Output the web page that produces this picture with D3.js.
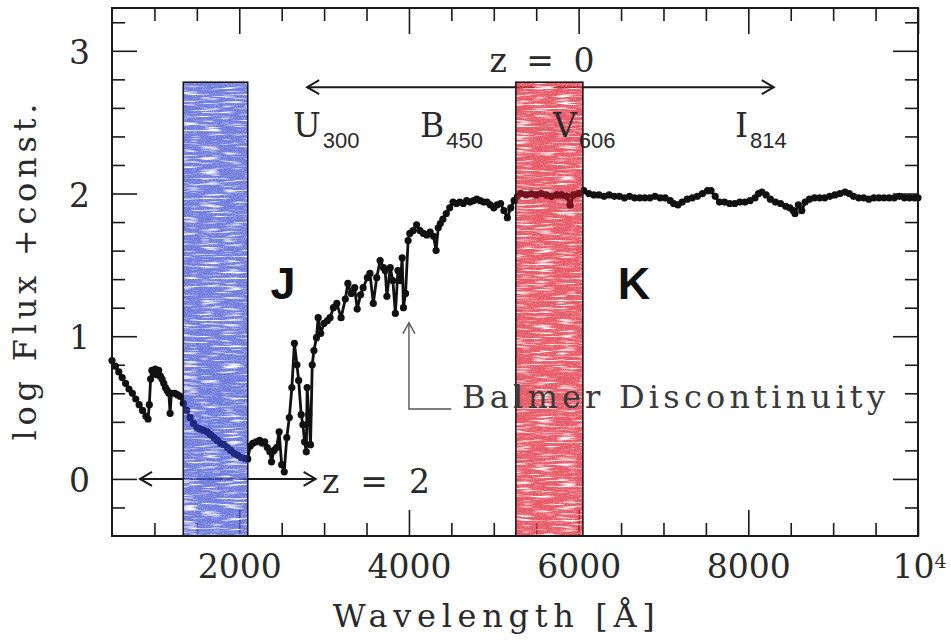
<!DOCTYPE html>
<html>
<head>
<meta charset="utf-8">
<script src="https://cdn.jsdelivr.net/npm/d3@7"></script>
<style>
  html, body { margin: 0; padding: 0; background: #fff; }
  svg { display: block; }
</style>
</head>
<body>
<svg id="chart" width="951" height="642"></svg>
<script>
// Spectrum: [wavelength (Å), log flux + const]
const spectrum = [
  [500,0.83],[540,0.79],[580,0.75],[620,0.71],[660,0.67],[700,0.63],[740,0.60],[780,0.56],[820,0.52],[860,0.48],[900,0.44],[925,0.42],
  [940,0.52],[955,0.70],[970,0.76],[990,0.74],[1010,0.77],[1030,0.73],[1050,0.76],[1070,0.72],[1090,0.70],[1110,0.67],[1130,0.64],[1150,0.62],[1170,0.60],[1185,0.46],[1200,0.60],[1240,0.60],[1270,0.59],
  [1300,0.58],[1340,0.53],[1380,0.48],[1420,0.43],[1460,0.39],[1500,0.36],[1540,0.35],[1580,0.34],[1620,0.33],[1660,0.31],[1700,0.29],[1740,0.27],[1780,0.25],[1820,0.24],[1860,0.22],[1900,0.20],[1940,0.18],[1980,0.165],[2020,0.15],[2060,0.145],[2100,0.14],
  [2130,0.23],[2160,0.25],[2200,0.26],[2240,0.27],[2270,0.25],[2300,0.26],[2330,0.22],[2360,0.19],[2380,0.12],[2410,0.20],[2440,0.22],[2470,0.33],[2500,0.10],[2530,0.05],[2560,0.29],[2590,0.43],[2620,0.64],[2650,0.95],[2680,0.80],[2700,0.69],[2730,0.45],[2750,0.38],[2770,0.26],[2790,0.19],[2800,0.64],[2820,0.45],[2840,0.24],[2860,0.80],[2880,0.90],[2910,0.99],[2930,1.13],[2960,1.02],[3000,1.09],[3040,1.11],[3070,1.13],[3110,1.20],[3150,1.23],[3200,1.13],[3250,1.26],[3280,1.37],[3320,1.30],[3360,1.34],[3390,1.19],[3430,1.29],[3460,1.34],[3510,1.41],[3540,1.44],[3580,1.23],[3620,1.41],[3660,1.53],[3700,1.48],[3720,1.46],[3740,1.28],[3780,1.48],[3810,1.39],[3840,1.16],[3870,1.46],[3900,1.39],[3920,1.55],[3935,1.20],[3960,1.30],[3990,1.67],[4010,1.72],[4050,1.74],[4090,1.78],[4130,1.74],[4170,1.72],[4210,1.71],[4250,1.73],[4290,1.70],[4320,1.60],[4345,1.76],[4370,1.79],[4400,1.82],
  [4440,1.86],[4480,1.90],[4520,1.94],[4560,1.93],[4600,1.94],[4640,1.93],[4680,1.95],[4720,1.94],[4760,1.95],[4800,1.96],[4840,1.95],[4880,1.94],[4920,1.94],[4960,1.92],[5000,1.90],[5040,1.92],[5080,1.93],[5120,1.88],[5160,1.83],[5200,1.90],[5240,1.95],[5280,1.98],
  [5320,2.00],[5380,1.99],[5440,2.00],[5500,1.99],[5560,2.00],[5620,1.99],[5680,1.98],[5740,1.99],[5800,1.99],[5860,1.98],[5900,1.92],[5940,1.99],[6000,2.00],[6060,2.02],[6120,2.00],[6180,1.99],[6240,1.99],[6300,1.98],[6360,1.99],[6420,1.98],[6480,1.98],[6540,1.97],[6600,1.98],[6660,1.97],[6720,1.97],[6780,1.97],[6840,1.97],[6900,1.98],[6960,1.97],[7020,1.97],[7080,1.95],[7120,1.93],[7170,1.92],[7220,1.94],[7280,1.96],[7340,1.97],[7400,1.98],[7460,2.00],[7520,2.02],[7560,2.02],[7610,1.98],[7660,1.94],[7720,1.94],[7780,1.93],[7840,1.93],[7900,1.94],[7960,1.94],[8020,1.95],[8080,1.97],[8120,2.00],[8160,2.01],[8210,1.99],[8260,1.96],[8320,1.94],[8380,1.93],[8440,1.91],[8490,1.90],[8530,1.88],[8550,1.86],[8590,1.92],[8630,1.88],[8670,1.94],[8720,1.96],[8780,1.97],[8840,1.97],[8900,1.97],[8960,1.98],[9020,1.99],[9080,2.00],[9140,2.01],[9190,2.00],[9240,1.98],[9300,1.97],[9360,1.97],[9420,1.96],[9480,1.97],[9540,1.97],[9600,1.97],[9660,1.97],[9720,1.97],[9780,1.98],[9840,1.97],[9900,1.97],[9960,1.97],[10000,1.97]
];

// Axis ticks
const xMajorTicks = [2000, 4000, 6000, 8000, 10000];
const xMinorTicks = [1000, 1500, 2500, 3000, 3500, 4500, 5000, 5500, 6500, 7000, 7500, 8500, 9000, 9500];
const yMajorTicks = [0, 1, 2, 3];
const yMinorTicks = [-0.2, 0.2, 0.4, 0.6, 0.8, 1.2, 1.4, 1.6, 1.8, 2.2, 2.4, 2.6, 2.8, 3.2];

// Near-IR windows (J, K) redshifted: [start Å, end Å]
const windowNames = ["J", "K"];
const windowRanges = [[1340, 2100], [5260, 6050]];
const windowTop = 2.78;

// Redshift ranges covered by the optical filters
const z0Range = [2800, 8300], z0Level = 2.745;
const z2Range = [830, 2900],  z2Level = 0;

// HST filter labels: [band, subscript, wavelength]
const filterLabels = [["U", "300", 2633], ["B", "450", 4130], ["V", "606", 5698], ["I", "814", 7843]];

const svg = d3.select("#chart");
const x = d3.scaleLinear().domain([500, 10000]).range([112, 918]);
const y = d3.scaleLinear().domain([-0.4, 3.3]).range([536, 8]);

const serif = "'DejaVu Serif', serif";
const sans = "'Liberation Sans', Arial, sans-serif";
const ink = "#1a1a1a";
const textInk = "#2a2a2a";

// Texture for the shaded windows: fine horizontal streaks plus light grain
const defs = svg.append("defs");
const f = defs.append("filter").attr("id", "streaks")
  .attr("x", 0).attr("y", 0).attr("width", 1).attr("height", 1);
f.append("feTurbulence").attr("type", "fractalNoise").attr("baseFrequency", "0.045 0.5")
  .attr("numOctaves", 2).attr("seed", 4).attr("result", "n1");
f.append("feColorMatrix").attr("in", "n1").attr("type", "matrix")
  .attr("values", "0 0 0 0 1  0 0 0 0 1  0 0 0 0 1  4.0 0 0 0 -2.05").attr("result", "w1");
f.append("feTurbulence").attr("type", "fractalNoise").attr("baseFrequency", "1.1")
  .attr("numOctaves", 1).attr("seed", 9).attr("result", "n2");
f.append("feColorMatrix").attr("in", "n2").attr("type", "matrix")
  .attr("values", "0 0 0 0 1  0 0 0 0 1  0 0 0 0 1  1.6 0 0 0 -0.85").attr("result", "w2");
const merge = f.append("feMerge").attr("result", "m");
merge.append("feMergeNode").attr("in", "w1");
merge.append("feMergeNode").attr("in", "w2");
f.append("feComposite").attr("in", "m").attr("in2", "SourceGraphic").attr("operator", "in");

// Clip regions for the window rectangles
const winRect = r => ({ x: x(r[0]), y: y(windowTop), w: x(r[1]) - x(r[0]), h: y(-0.4) - y(windowTop) });
windowRanges.forEach((r, i) => {
  const b = winRect(r);
  defs.append("clipPath").attr("id", "win" + i).append("rect")
    .attr("x", b.x).attr("y", b.y).attr("width", b.w).attr("height", b.h);
});

// Axes: ticks on all four sides, pointing inward
function tickAxis(axisFn, scale, values, size, tx, ty) {
  const g = svg.append("g").attr("transform", `translate(${tx},${ty})`)
    .call(axisFn(scale).tickValues(values).tickSize(-size).tickFormat(""));
  g.select(".domain").remove();
  g.selectAll(".tick line").attr("stroke", ink).attr("stroke-width", 1.6);
  return g;
}
tickAxis(d3.axisBottom, x, xMinorTicks, 13, 0, 536);
tickAxis(d3.axisTop, x, xMinorTicks, 13, 0, 8);
tickAxis(d3.axisTop, x, xMajorTicks, 26, 0, 8);
tickAxis(d3.axisLeft, y, yMinorTicks, 13, 112, 0);
tickAxis(d3.axisRight, y, yMinorTicks, 13, 918, 0);
tickAxis(d3.axisRight, y, yMajorTicks, 25, 918, 0);

const xAxis = svg.append("g").attr("transform", "translate(0,536)")
  .call(d3.axisBottom(x).tickValues(xMajorTicks).tickSize(-26).tickPadding(19)
    .tickFormat(d => d === 10000 ? "10" : d3.format("d")(d)));
xAxis.select(".domain").remove();
xAxis.selectAll(".tick line").attr("stroke", ink).attr("stroke-width", 1.6);
xAxis.selectAll(".tick text").attr("font-family", serif).attr("font-size", 33).attr("fill", textInk);
xAxis.selectAll(".tick text").filter(d => d === 10000)
  .attr("text-anchor", "start").attr("x", -26)
  .append("tspan").attr("dy", "-0.55em").attr("font-size", 19).text("4");

const yAxis = svg.append("g").attr("transform", "translate(112,0)")
  .call(d3.axisLeft(y).tickValues(yMajorTicks).tickSize(-25).tickPadding(22).tickFormat(d3.format("d")));
yAxis.select(".domain").remove();
yAxis.selectAll(".tick line").attr("stroke", ink).attr("stroke-width", 1.6);
yAxis.selectAll(".tick text").attr("font-family", serif).attr("font-size", 33).attr("fill", textInk)
  .attr("dy", "0.38em");

// Axis titles
svg.append("text").attr("x", x(5000)).attr("y", 627).attr("text-anchor", "middle")
  .attr("font-family", serif).attr("font-size", 32).attr("fill", textInk)
  .attr("textLength", 322).attr("lengthAdjust", "spacing").text("Wavelength [Å]");
svg.append("text").attr("transform", `translate(36,${y(1.45)}) rotate(-90)`).attr("text-anchor", "middle")
  .attr("font-family", serif).attr("font-size", 32).attr("fill", textInk)
  .attr("textLength", 337).attr("lengthAdjust", "spacing").text("log Flux +const.");

// Double-headed arrows marking redshift coverage
function hArrow(range, level) {
  const y0 = y(level), x0 = x(range[0]), x1 = x(range[1]);
  const g = svg.append("g").attr("stroke", ink).attr("stroke-width", 2).attr("fill", "none");
  g.append("line").attr("x1", x0).attr("x2", x1).attr("y1", y0).attr("y2", y0);
  g.append("path").attr("d", `M${x0 + 12},${y0 - 7}L${x0},${y0}L${x0 + 12},${y0 + 7}`);
  g.append("path").attr("d", `M${x1 - 12},${y0 - 7}L${x1},${y0}L${x1 - 12},${y0 + 7}`);
}
hArrow(z0Range, z0Level);
hArrow(z2Range, z2Level);

// Spectrum: connecting line plus dot markers
const line = d3.line().x(d => x(d[0])).y(d => y(d[1]));
function drawSpectrum(parent, color) {
  parent.append("path").datum(spectrum).attr("d", line)
    .attr("fill", "none").attr("stroke", color).attr("stroke-width", 2.8).attr("stroke-linejoin", "round");
  parent.append("g").selectAll("circle").data(spectrum).join("circle")
    .attr("cx", d => x(d[0])).attr("cy", d => y(d[1])).attr("r", 3.6).attr("fill", color);
}
drawSpectrum(svg.append("g"), "#111");

// Shaded windows drawn over the spectrum; the spectrum shows through tinted
const windowColors = ["#4655d2", "#e12838"];
const tintedInk = ["#1c2580", "#6e0f1c"];
windowRanges.forEach((r, i) => {
  const b = winRect(r);
  svg.append("rect").attr("x", b.x).attr("y", b.y).attr("width", b.w).attr("height", b.h)
    .attr("fill", windowColors[i]).attr("fill-opacity", 0.76);
  svg.append("rect").attr("x", b.x).attr("y", b.y).attr("width", b.w).attr("height", b.h)
    .attr("fill", "#000").attr("filter", "url(#streaks)");
  drawSpectrum(svg.append("g").attr("clip-path", `url(#win${i})`).attr("opacity", 0.9), tintedInk[i]);
  svg.append("rect").attr("x", b.x).attr("y", b.y).attr("width", b.w).attr("height", b.h)
    .attr("fill", "none").attr("stroke", ink).attr("stroke-width", 1.6);
});

// Annotations on top of the windows
svg.append("text").attr("x", x(5568)).attr("y", y(2.85)).attr("text-anchor", "middle")
  .attr("font-family", serif).attr("font-size", 33).attr("fill", textInk)
  .attr("textLength", 105).attr("lengthAdjust", "spacing").text("z = 0");
svg.append("text").attr("x", x(2975)).attr("y", y(-0.10))
  .attr("font-family", serif).attr("font-size", 33).attr("fill", textInk)
  .attr("textLength", 108).attr("lengthAdjust", "spacing").text("z = 2");

// Filter names with subscripted central wavelengths
filterLabels.forEach(([band, sub, wl]) => {
  const t = svg.append("text").attr("x", x(wl)).attr("y", y(2.393))
    .attr("font-family", serif).attr("font-size", 33).attr("fill", textInk);
  t.append("tspan").text(band);
  t.append("tspan").attr("dx", 2).attr("dy", 11).attr("font-family", sans).attr("font-size", 22).text(sub);
});

// Balmer break pointer
const bx = x(4000), by0 = y(0.49), by1 = y(1.095);
const bal = svg.append("g").attr("stroke", "#555").attr("stroke-width", 1.4).attr("fill", "none");
bal.append("path").attr("d", `M${x(4500)},${by0}L${bx},${by0}L${bx},${by1}`);
bal.append("path").attr("d", `M${bx - 6},${by1 + 11}L${bx},${by1}L${bx + 6},${by1 + 11}`);
svg.append("text").attr("x", x(4625)).attr("y", y(0.496))
  .attr("font-family", serif).attr("font-size", 32).attr("fill", "#3a3a3a")
  .attr("textLength", 423).attr("lengthAdjust", "spacing").text("Balmer Discontinuity");

// Band letters
[[windowNames[0], 2516], [windowNames[1], 6653]].forEach(([name, wl]) => {
  svg.append("text").attr("x", x(wl)).attr("y", y(1.262)).attr("text-anchor", "middle")
    .attr("font-family", sans).attr("font-weight", "bold").attr("font-size", 45).attr("fill", "#111").text(name);
});

// Plot frame
svg.append("rect").attr("x", 112).attr("y", 8).attr("width", 806).attr("height", 528)
  .attr("fill", "none").attr("stroke", ink).attr("stroke-width", 2);
</script>
</body>
</html>
